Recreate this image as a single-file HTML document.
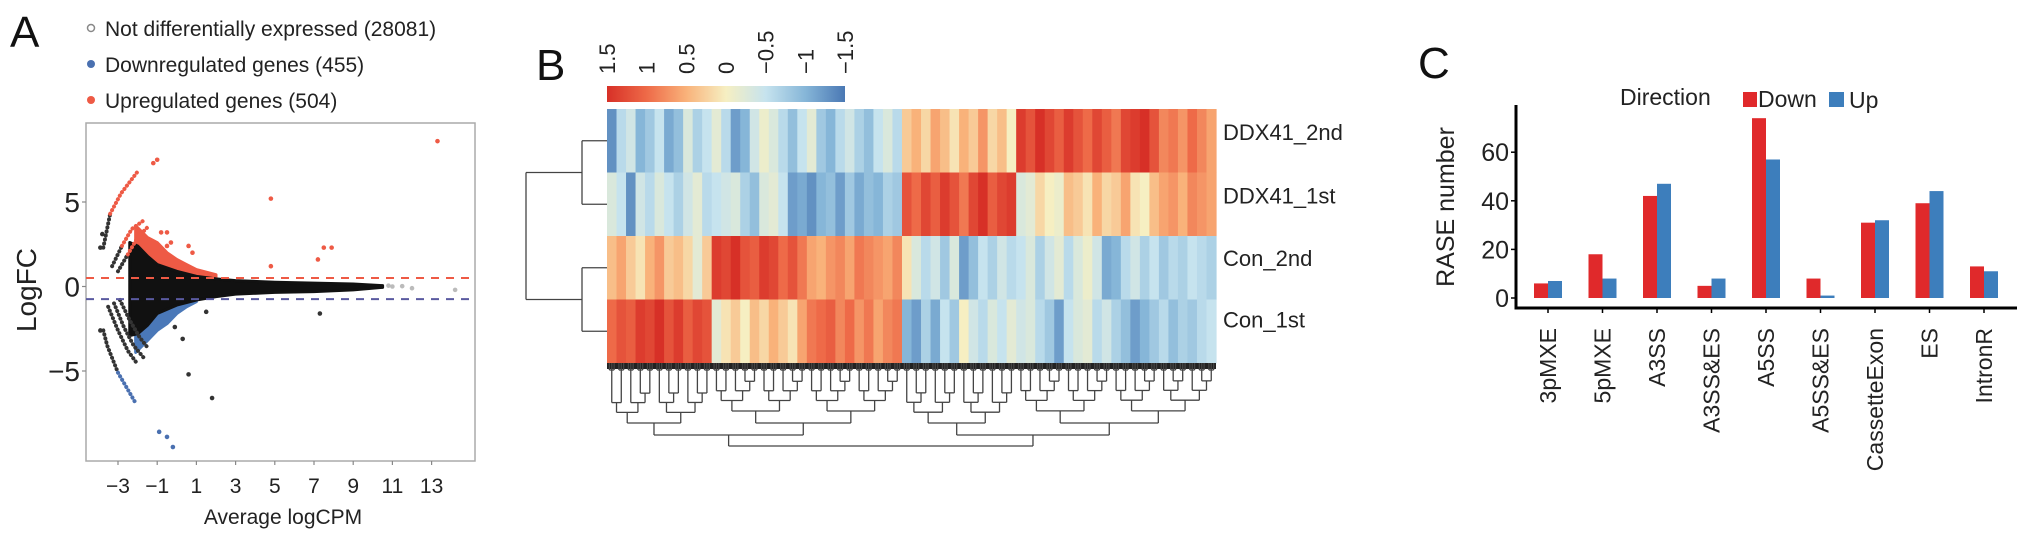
<!DOCTYPE html>
<html><head><meta charset="utf-8"><style>
html,body{margin:0;padding:0;background:#fff;}
svg{display:block;font-family:"Liberation Sans",Arial,sans-serif;}
</style></head><body>
<svg id="fig" width="2032" height="542" viewBox="0 0 2032 542" xmlns="http://www.w3.org/2000/svg">
<text x="10" y="47" font-size="44" fill="#111">A</text>
<text x="536" y="80" font-size="44" fill="#111">B</text>
<text x="1418" y="78" font-size="44" fill="#111">C</text>
<g id="pa"></g>
<g id="pb"></g>
<g id="pc"></g>
</svg>
<script>
const NS="http://www.w3.org/2000/svg";
function mk(parent,tag,attrs,text){const e=document.createElementNS(NS,tag);for(const k in attrs)e.setAttribute(k,attrs[k]);if(text!==undefined)e.textContent=text;parent.appendChild(e);return e;}

// ===== Panel A data =====
const maXTicks=[-3,-1,1,3,5,7,9,11,13];
const maYTicks=[5,0,-5];
const cloudX=[-2.4,-2.0,-1.5,-1,0,1,2,3,5,7,9,10.5];
const cloudUpper=[2.6,2.4,1.8,1.3,0.9,0.6,0.45,0.35,0.25,0.2,0.15,0.05];
const cloudLower=[-2.9,-2.8,-2.3,-1.6,-1.1,-0.8,-0.6,-0.45,-0.35,-0.3,-0.2,-0.05];
const upX=[-2.1,-1.5,-1,-0.5,0,0.5,1,2];
const upTop=[3.6,2.9,2.6,2.0,1.6,1.3,1.0,0.7];
const upBase=[2.2,1.6,1.3,1.0,0.8,0.65,0.55,0.45];
const downX=[-2.1,-1.5,-1,-0.5,0,0.5,1];
const downBot=[-3.9,-3.2,-2.6,-2.2,-1.6,-1.2,-0.9];
const downBase=[-2.4,-1.9,-1.5,-1.2,-1.0,-0.85,-0.75];
const arcsGray=[[[-3.75,2.3],[-3.4,4.3]],[[-3.3,1.2],[-2.8,2.4]],[[-3.0,0.9],[-2.5,1.9]],
 [[-3.75,-2.6],[-3.55,-3.5],[-3.0,-5.1]],[[-3.5,-1.2],[-3.0,-2.6],[-2.5,-3.8],[-2.0,-4.6]],
 [[-3.2,-1.0],[-2.7,-2.4],[-2.2,-3.5],[-1.7,-4.2]],[[-2.9,-0.8],[-2.4,-2.0],[-1.9,-3.0],[-1.5,-3.6]]];
const arcsRed=[[[-3.4,4.3],[-2.85,5.5],[-2.0,6.8]],[[-2.8,2.4],[-2.3,3.4],[-1.7,3.9]],[[-2.5,1.9],[-2.0,2.9],[-1.5,3.5]]];
const arcsBlue=[[[-3.0,-5.1],[-2.1,-6.9]]];
const ptsRed=[[-1.2,7.3],[-1.0,7.5],[13.3,8.6],[4.8,5.2],[4.8,1.2],[7.2,1.6],[7.5,2.3],[7.9,2.3],[0.6,2.4],[0.8,2.0],[-0.8,3.2],[-0.5,3.2],[-0.3,2.6],[-0.5,2.4]];
const ptsBlack=[[7.3,-1.6],[1.5,-1.5],[0.3,-3.1],[0.6,-5.2],[1.8,-6.6],[-3.9,-2.6],[-3.9,2.3],[-3.8,3.1],[-0.1,-2.4]];
const ptsBlue=[[-0.9,-8.6],[-0.5,-8.9],[-0.2,-9.5]];
const ptsGray=[[10.8,0.05],[11,0],[12,-0.1],[14.2,-0.2],[11.5,0.02]];
const thrUp=0.5, thrDown=-0.75;

(function(){
 const g=document.getElementById('pa');
 const xS=v=>118+19.6*(v+3), yS=v=>286.5-16.9*v;
 const L=86,R=475,T=123,B=461;
 const leg=[['Not differentially expressed (28081)','#888',true],['Downregulated genes (455)','#4a70b0',false],['Upregulated genes (504)','#ee5a45',false]];
 leg.forEach((d,i)=>{const y=29+i*36;
  const c=mk(g,'circle',d[2]?{cx:91,cy:y-1,r:3.5,fill:'none',stroke:'#888','stroke-width':1.5}:{cx:91,cy:y-1,r:4,fill:d[1]});
  
  
  const t=mk(g,'text',{x:105,y:y+7,'font-size':21,fill:'#222'},d[0]);
  
  
 });
 const frame=mk(g,'rect',{x:L,y:T,width:R-L,height:B-T,fill:'none',stroke:'#aaa','stroke-width':1.5});
 
 
 const env=(xs,up,lo,fill,name)=>{let p=xs.map((x,i)=>xS(x)+','+yS(up[i])).join(' ')+' '+xs.slice().reverse().map((x,i)=>xS(x)+','+yS(lo[xs.length-1-i])).join(' ');
  const e=mk(g,'polygon',{points:p,fill:fill,stroke:fill,'stroke-width':3,'stroke-linejoin':'round'});
  
  };
 env(upX,upTop,upBase,'#ee5a45','upregulated-cloud');
 env(downX,downBase,downBot,'#4a78b8','downregulated-cloud');
 env(cloudX,cloudUpper,cloudLower,'#111','not-de-cloud');
 const arc=(pts,col,name)=>{const e=mk(g,'polyline',{points:pts.map(p=>xS(p[0])+','+yS(p[1])).join(' '),fill:'none',stroke:col,'stroke-width':4,'stroke-linecap':'round','stroke-dasharray':'0.1 4'});
  
  };
 arcsGray.forEach(a=>arc(a,'#333','gray-arc'));
 arcsRed.forEach(a=>arc(a,'#ee5a45','red-arc'));
 arcsBlue.forEach(a=>arc(a,'#4a70b0','blue-arc'));
 const pts=(arr,col,name)=>arr.forEach(p=>{const c=mk(g,'circle',{cx:xS(p[0]),cy:yS(p[1]),r:2.3,fill:col});
  
  });
 pts(ptsRed,'#ee5a45','up-point');pts(ptsBlack,'#333','not-de-point');pts(ptsBlue,'#4a70b0','down-point');pts(ptsGray,'#bbb','not-de-point');
 const h1=mk(g,'line',{x1:L,x2:R,y1:yS(thrUp),y2:yS(thrUp),stroke:'#ee5a45','stroke-width':2,'stroke-dasharray':'8 7'});
 
 
 const h2=mk(g,'line',{x1:L,x2:R,y1:yS(thrDown),y2:yS(thrDown),stroke:'#5a5aa0','stroke-width':2,'stroke-dasharray':'8 7'});
 
 
 maXTicks.forEach(v=>{mk(g,'line',{x1:xS(v),x2:xS(v),y1:B,y2:B+4,stroke:'#888','stroke-width':1.2});
  const t=mk(g,'text',{x:xS(v),y:493,'font-size':21,'text-anchor':'middle',fill:'#222'},v<0?'\u2212'+(-v):''+v);
  
  });
 maYTicks.forEach(v=>{mk(g,'line',{x1:L-4,x2:L,y1:yS(v),y2:yS(v),stroke:'#888','stroke-width':1.2});
  const t=mk(g,'text',{x:80,y:yS(v)+10,'font-size':28,'text-anchor':'end',fill:'#222'},v<0?'\u2212'+(-v):''+v);
  
  });
 const xt=mk(g,'text',{x:283,y:524,'font-size':21,'text-anchor':'middle',fill:'#222'},'Average logCPM');
 
 
 const yt=mk(g,'text',{x:0,y:0,'font-size':28,'text-anchor':'middle',fill:'#222',transform:'translate(36,290) rotate(-90)'},'LogFC');
 
 
})();

// ===== Panel B data =====
const hmRows=['DDX41_2nd','DDX41_1st','Con_2nd','Con_1st'];
const hmDDX2=[-1.3,-0.6,-0.4,-1.0,-0.8,-0.5,-1.1,-0.9,-0.3,-0.7,-0.5,-0.2,-0.6,-1.2,-1.0,-0.4,-0.1,-0.3,-0.6,-0.9,-0.5,-0.2,-0.8,-1.0,-0.6,-0.4,-0.7,-0.9,-0.5,-0.3,-0.6,0.3,0.5,0.2,0.6,0.4,0.1,0.5,0.3,0.7,0.2,0.4,0.0,1.4,1.2,1.5,1.3,1.1,1.4,1.2,1.0,1.3,1.1,0.9,1.3,1.4,1.5,1.2,0.8,0.9,0.7,1.0,0.8,0.6];
const hmDDX1=[-0.3,-0.5,-1.3,-0.4,-0.6,-0.3,-0.5,-0.7,-0.4,-0.2,-0.6,-0.5,-0.4,-0.3,-0.7,-0.9,-0.3,-0.2,-0.5,-1.2,-1.1,-1.3,-1.0,-0.9,-1.2,-0.8,-1.1,-0.9,-1.0,-0.7,-0.8,1.2,1.0,1.3,1.1,1.4,1.2,0.9,1.3,1.5,1.1,1.3,1.4,-0.3,-0.2,0.2,0.0,-0.1,0.4,0.3,0.1,0.5,0.2,0.3,0.6,0.1,0.0,0.4,0.6,0.7,0.5,0.8,0.7,0.6];
const hmCon2=[0.4,0.6,0.3,0.1,0.5,0.7,0.3,0.4,0.2,-0.2,0.3,1.4,1.3,1.5,1.2,1.1,1.4,1.3,1.0,1.2,0.9,0.6,0.5,0.7,0.8,0.6,0.9,0.8,0.7,0.6,0.8,0.1,-0.3,-0.6,-0.4,-0.8,-0.3,-1.2,-0.9,-0.5,-0.7,-0.4,-0.6,-0.5,-0.3,-0.7,-0.4,-0.2,-0.6,-0.3,-0.1,-0.4,-1.1,-1.0,-0.6,-0.4,-0.7,-0.5,-0.8,-0.6,-0.7,-0.5,-0.6,-0.7];
const hmCon1=[1.0,1.2,1.1,1.4,1.3,1.5,1.2,1.4,1.1,1.3,1.2,-0.2,0.1,0.3,0.0,0.4,0.2,0.5,0.3,0.1,0.6,0.9,1.0,1.1,0.8,1.0,0.7,0.9,0.6,0.8,0.9,-1.0,-1.2,-0.7,-1.1,-0.5,-0.8,0.0,-0.4,-0.6,-0.3,-0.5,-0.2,-0.4,-0.3,-0.6,-0.8,-1.2,-0.5,-0.3,-0.2,-0.6,-0.4,-0.7,-0.9,-1.2,-1.0,-0.8,-0.6,-0.9,-0.7,-0.8,-0.6,-0.5];
const hmClusters=[11,20,12,21];
const cbTicks=[1.5,1,0.5,0,-0.5,-1,-1.5];

(function(){
 const g=document.getElementById('pb');
 const data=[hmDDX2,hmDDX1,hmCon2,hmCon1];
 const stops=[[1.5,[215,48,39]],[1,[238,106,72]],[0.5,[249,178,122]],[0,[246,239,194]],[-0.5,[198,227,238]],[-1,[134,182,216]],[-1.5,[74,120,180]]];
 function col(v){v=Math.max(-1.5,Math.min(1.5,v));for(let i=0;i<stops.length-1;i++){const a=stops[i],b=stops[i+1];if(v<=a[0]&&v>=b[0]){const t=(a[0]-v)/(a[0]-b[0]);return 'rgb('+a[1].map((c,k)=>Math.round(c+(b[1][k]-c)*t)).join(',')+')';}}return '#fff';}
 const X0=607,X1=1216,Y0=109,RH=63.5,n=hmDDX2.length,cw=(X1-X0)/n;
 const cbL=607,cbR=845,cbS=v=>cbL+(1.5-v)/3*(cbR-cbL);
 const grad=mk(mk(g,'defs',{}),'linearGradient',{id:'cbg',x1:0,x2:1,y1:0,y2:0});
 stops.forEach(s=>mk(grad,'stop',{offset:(1.5-s[0])/3,'stop-color':'rgb('+s[1].join(',')+')'}));
 const cb=mk(g,'rect',{x:cbL,y:86,width:cbR-cbL,height:16,fill:'url(#cbg)'});
 
 
 cbTicks.forEach(v=>{const t=mk(g,'text',{x:0,y:0,'font-size':22,fill:'#222',transform:'translate('+(cbS(v)+8)+',74) rotate(-90)'},v<0?'\u2212'+(-v):''+v);
  
  });
 data.forEach((row,r)=>row.forEach((v,c)=>{const e=mk(g,'rect',{x:X0+c*cw,y:Y0+r*RH,width:cw+0.6,height:RH+0.3,fill:col(v)});
  
  }));
 hmRows.forEach((s,r)=>{const t=mk(g,'text',{x:1223,y:Y0+r*RH+RH/2-2+([1,1,0,-2][r]),'font-size':22,fill:'#222'},s);
  
  });
 const ln=(x1,y1,x2,y2,name)=>{const e=mk(g,'line',{x1,y1,x2,y2,stroke:'#444','stroke-width':1.3});return e;};
 const rc=r=>Y0+RH*r+RH/2;
 [[0,1],[2,3]].forEach(p=>{ln(582,rc(p[0]),607,rc(p[0]),'row-dendrogram');ln(582,rc(p[1]),607,rc(p[1]),'row-dendrogram');ln(582,rc(p[0]),582,rc(p[1]),'row-dendrogram');});
 const m1=(rc(0)+rc(1))/2,m2=(rc(2)+rc(3))/2;
 ln(526,m1,582,m1,'row-dendrogram');ln(526,m2,582,m2,'row-dendrogram');ln(526,m1,526,m2,'row-dendrogram');
 const YB=Y0+4*RH;
 const band=mk(g,'rect',{x:X0,y:YB,width:X1-X0,height:6,fill:'#222'});
 
 
 function tree(a,b,h){
  if(b-a<=1){const x=X0+(a+0.5)*cw;ln(x,YB,x,YB+9,'column-dendrogram');ln(x-cw/4,YB,x-cw/4,YB+7,'column-dendrogram');ln(x+cw/4,YB,x+cw/4,YB+7,'column-dendrogram');ln(x-cw/4,YB+7,x+cw/4,YB+7,'column-dendrogram');return [x,YB+9];}
  const m=Math.floor((a+b)/2);const nh=Math.max(YB+12,h-9-(b-a)*0.15);
  const l=tree(a,m,nh),r=tree(m,b,nh);
  ln(l[0],l[1],l[0],h,'column-dendrogram');ln(r[0],r[1],r[0],h,'column-dendrogram');ln(l[0],h,r[0],h,'column-dendrogram');
  return [(l[0]+r[0])/2,h];}
 let s=0;const cx=[];hmClusters.forEach(k=>{cx.push(tree(s,s+k,423));s+=k;});
 const j=(p,q,h)=>{ln(p[0],p[1],p[0],h,'column-dendrogram');ln(q[0],q[1],q[0],h,'column-dendrogram');ln(p[0],h,q[0],h,'column-dendrogram');return [(p[0]+q[0])/2,h];};
 const a=j(cx[0],cx[1],435),b=j(cx[2],cx[3],435);j(a,b,446);
})();

// ===== Panel C data =====
const rCats=['3pMXE','5pMXE','A3SS','A3SS&ES','A5SS','A5SS&ES','CassetteExon','ES','IntronR'];
const rDown=[6,18,42,5,74,8,31,39,13];
const rUp=[7,8,47,8,57,1,32,44,11];
const rTicks=[0,20,40,60];

(function(){
 const g=document.getElementById('pc');
 const yS=v=>298-2.43*v, xS=i=>1548+54.5*i;
 const ax=mk(g,'path',{d:'M1516 105 V308 H2017',fill:'none',stroke:'#000','stroke-width':3});
 
 
 rTicks.forEach(v=>{mk(g,'line',{x1:1511,x2:1516,y1:yS(v),y2:yS(v),stroke:'#000','stroke-width':1.5});
  const t=mk(g,'text',{x:1509,y:yS(v)+9,'font-size':25,'text-anchor':'end',fill:'#222'},''+v);
  
  });
 rCats.forEach((c,i)=>{const x=xS(i);
  const b1=mk(g,'rect',{x:x-14,y:yS(rDown[i]),width:14,height:yS(0)-yS(rDown[i]),fill:'#e0292b'});
  
  
  const b2=mk(g,'rect',{x:x,y:yS(rUp[i]),width:14,height:yS(0)-yS(rUp[i]),fill:'#3d7ebc'});
  
  
  mk(g,'line',{x1:x,x2:x,y1:308,y2:313,stroke:'#000','stroke-width':1.5});
  const t=mk(g,'text',{x:0,y:0,'font-size':23,'text-anchor':'end',fill:'#222',transform:'translate('+(x+8)+',328) rotate(-90)'},c);
  
  });
 const yt=mk(g,'text',{x:0,y:0,'font-size':25,'text-anchor':'middle',fill:'#222',transform:'translate(1454,207) rotate(-90)'},'RASE number');
 
 
 const lt=mk(g,'text',{x:1620,y:105,'font-size':23,fill:'#222'},'Direction');
 
 
 const s1=mk(g,'rect',{x:1743,y:92,width:14,height:15,fill:'#e0292b'});
 
 
 const t1=mk(g,'text',{x:1758,y:107,'font-size':23,fill:'#222'},'Down');
 
 
 const s2=mk(g,'rect',{x:1829,y:92,width:15,height:15,fill:'#3d7ebc'});
 
 
 const t2=mk(g,'text',{x:1849,y:108,'font-size':23,fill:'#222'},'Up');
 
 
})();
</script>
</body></html>
